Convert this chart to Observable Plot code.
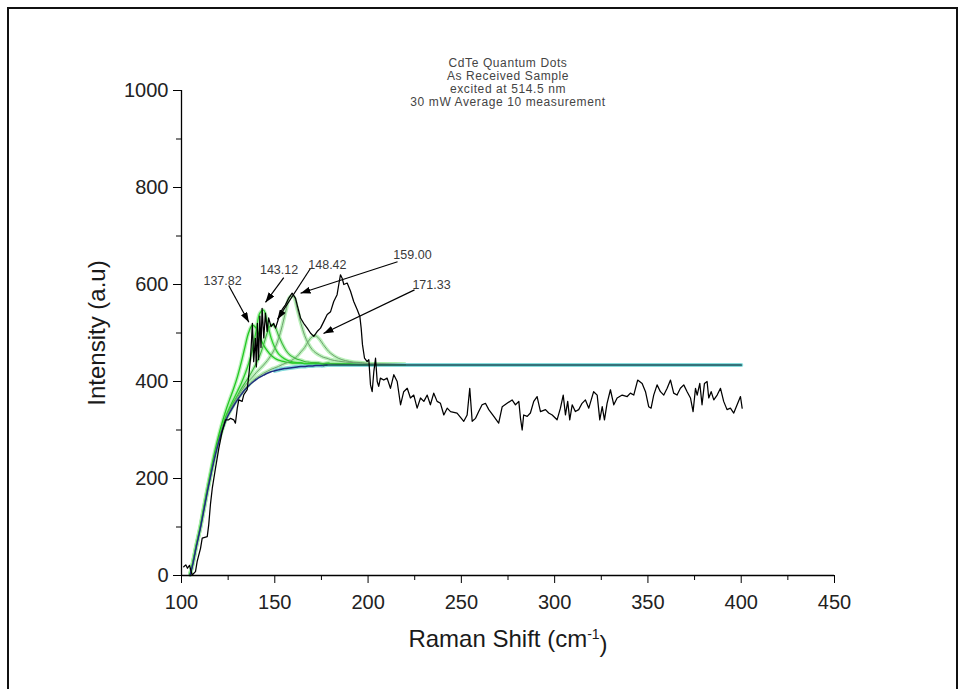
<!DOCTYPE html>
<html><head><meta charset="utf-8">
<script src="https://cdn.jsdelivr.net/npm/d3@7"></script>
<script src="https://cdn.jsdelivr.net/npm/@observablehq/plot@0.6"></script>
<style>
html,body{margin:0;padding:0;background:#fff;}
#wrap{position:relative;width:965px;height:689px;overflow:hidden;background:#fff;}
#border{position:absolute;left:7px;top:7px;width:951px;height:720px;border:2px solid #111;box-sizing:border-box;}
#chart{position:absolute;left:0;top:0;}
</style></head><body>
<div id="wrap"><div id="border"></div><div id="chart"></div></div>
<script>
// ---- data ----
const specX = [101.2,102.3,103.2,104.3,105.7,107.5,108.4,110.2,111.1,113.8,114.6,115.5,116.5,118.2,120.0,121.8,123.6,125.3,126.3,128.0,128.9,129.9,130.7,132.5,133.4,135.2,136.1,137.0,137.5,138.0,138.7,139.6,140.1,140.7,141.3,142.0,142.6,143.2,144.1,145.0,145.9,146.7,148.0,149.4,150.4,152.1,153.9,155.7,157.5,159.3,161.1,162.0,163.8,165.5,167.4,169.1,170.9,172.7,174.5,176.3,178.1,179.9,181.6,183.4,184.3,185.2,186.1,187.0,188.8,190.6,192.3,194.2,195.6,196.3,197.0,198.1,199.5,200.4,201.3,202.2,203.1,204.0,204.9,205.7,206.6,208.4,210.2,212.0,213.8,215.6,217.4,219.1,221.0,222.7,224.5,226.3,228.1,229.9,231.7,233.4,235.2,237.0,238.8,240.6,242.4,244.2,247.7,251.3,253.1,254.5,255.8,257.6,259.3,261.1,262.9,264.7,267.4,270.0,271.9,274.5,277.2,279.0,280.8,281.7,282.6,283.4,285.3,287.0,288.8,290.6,292.4,295.1,296.8,298.7,301.3,303.1,304.6,305.8,307.0,308.1,309.4,311.1,312.9,314.7,316.5,318.3,320.9,322.8,324.2,325.5,326.7,328.1,329.9,331.7,333.5,336.2,338.9,340.6,342.4,344.5,346.9,348.7,350.4,351.7,353.1,354.9,356.7,358.5,360.3,362.1,363.8,365.6,367.4,369.2,371.0,372.8,374.2,375.5,376.4,377.8,379.0,380.3,381.7,382.6,383.9,385.3,387.1,388.9,390.6,392.4,394.2,396.0,397.8,399.6,400.5];
const specY = [18,22,15,21,1,8,29,56,77,80,105,146,180,221,262,297,321,321,324,321,314,345,362,359,373,383,414,448,483,520,441,489,430,520,445,535,470,551,490,541,503,531,513,520,510,531,548,558,572,582,572,558,531,520,510,500,493,503,510,524,538,544,565,579,600,620,613,600,603,586,565,548,534,510,476,448,441,445,393,379,421,448,400,390,407,403,407,386,414,400,352,379,386,366,372,345,366,359,372,352,376,359,355,331,345,338,335,318,331,386,318,324,338,352,355,342,328,314,348,355,362,352,359,324,300,331,328,335,359,369,338,342,335,331,321,345,372,331,359,321,352,338,342,355,362,345,379,372,321,348,321,355,383,352,366,372,369,376,372,403,396,379,348,345,372,393,379,372,386,403,376,372,386,393,379,366,338,386,372,396,352,396,400,366,379,362,372,386,359,342,345,335,352,369,345];

const fitX  = [104.6,106,108,110,112,114,116,118,120,122,124,126,128,130,132,134,136,138,140,142,144,146,148,150,152,154,156,158,160,162,164,166,168,170,172,174,176,178,180,184,188,192,196,200,210,220];
const baseY = [0,22,60,95,135,175,212,246,276,301,322,337,350,362,373,383,391,398,404,409,413,417,420,422,424,426,427,428,429,430,431,431,432,432,433,433,433,434,434,434,434,434,434,434,434,434];
const peak1Y = [4,27,65,101,142,183,222,258,290,318,343,365,386,410,439,471,501,516,510,492,475,463,454,448,444,442,440,439,438,438,438,437,437,437,437,437,436,437,437,436,436,436,435,435,435,435];
const peak2Y = [2,25,63,98,139,179,217,251,282,308,331,348,364,380,396,415,437,466,504,541,547,520,490,470,457,450,445,442,440,439,439,437,437,437,437,437,436,437,437,436,436,435,435,435,435,435];
const peak3Y = [2,24,62,97,138,178,215,250,280,306,328,344,358,371,385,397,409,422,437,454,476,501,517,513,495,478,464,455,450,446,444,441,440,439,439,438,437,438,437,437,436,436,436,435,435,435];
const peak4Y = [2,24,62,97,137,178,215,249,280,305,326,342,355,368,380,391,401,409,418,426,434,443,454,468,488,515,547,574,575,550,520,495,478,466,459,454,450,448,445,442,440,439,438,437,436,435];
const peak5Y = [1,23,61,96,136,176,213,247,277,302,323,338,352,364,375,385,393,401,407,412,417,421,425,428,431,435,438,441,446,452,461,470,483,492,494,487,476,466,458,448,443,440,439,437,436,435];
const plateauX = [300,400];
const plateauY = [434,434];

const peakNames = ["137.82","143.12","148.42","159.00","171.33"];
const labelX = [122.0,152.3,178.2,223.8,234.0];
const labelY = [608,629,641,660,598];
const arrowFromX = [125.3,154.8,169.1,215.8,224.9];
const arrowFromY = [598,614,633,647,589];
const arrowToX = [136.1,145.0,151.4,163.8,176.1];
const arrowToY = [522,563,528,582,499];

const titleLines = ["CdTe Quantum Dots","As Received Sample","excited at 514.5 nm","30 mW Average 10 measurement"];
const yTicks = [0,200,400,600,800,1000];
const yMinor = [100,300,500,700,900];
const xTicks = [100,150,200,250,300,350,400,450];
const xMinor = [125,175,225,275,325,375,425];

// ---- build tables ----
const spectrum = specX.map((x,i)=>({x, y: specY[i]}));
const peakSets = [peak1Y,peak2Y,peak3Y,peak4Y,peak5Y];
const peaks = peakSets.flatMap((arr,k)=>fitX.map((x,i)=>({x, y: arr[i], k})));
const baseline = fitX.map((x,i)=>({x, y: baseY[i]})).concat(plateauX.map((x,i)=>({x, y: plateauY[i]})));
const annot = peakNames.map((t,i)=>({t, x: labelX[i], y: labelY[i], x1: arrowFromX[i], y1: arrowFromY[i], x2: arrowToX[i], y2: arrowToY[i]}));

const peakColor = ["#22c822","#2ccf2c","#3cb93c","#6f9f6f","#6f9f6f"];
const peakWidth = [1.3,1.3,1.1,1.0,1.0];

const font = "'Liberation Sans', Arial, sans-serif";

const plot = Plot.plot({
  width: 965, height: 689,
  marginLeft: 181, marginRight: 131, marginTop: 90, marginBottom: 114,
  x: {domain: [100,450], label: null},
  y: {domain: [0,1000], label: null},
  style: {fontFamily: font, background: "transparent", color: "#111"},
  marks: [
    Plot.line(peaks, {x: "x", y: "y", z: "k", curve: "catmull-rom", stroke: "#a6eea6", strokeWidth: 3.8, strokeOpacity: 0.75}),
    Plot.line(baseline.filter(d => d.x >= 150), {x: "x", y: "y", curve: "catmull-rom", stroke: "#86dcdc", strokeWidth: 4.2}),
    ...peakSets.map((arr,k)=>Plot.line(peaks.filter(d=>d.k===k), {x: "x", y: "y", curve: "catmull-rom", stroke: peakColor[k], strokeWidth: peakWidth[k]})),
    Plot.line(baseline.filter(d => d.x <= 178), {x: "x", y: "y", curve: "catmull-rom", stroke: "#1e2a82", strokeWidth: 1.5}),
    Plot.line(baseline.filter(d => d.x >= 176), {x: "x", y: "y", stroke: "#1b4f5a", strokeWidth: 1.7}),
    Plot.line(spectrum, {x: "x", y: "y", stroke: "#000", strokeWidth: 1.25}),
    Plot.ruleX([100], {y1: 0, y2: 1000, stroke: "#000", strokeWidth: 1.3}),
    Plot.ruleY([0], {x1: 100, x2: 450, stroke: "#000", strokeWidth: 1.3}),
    Plot.axisY({ticks: yTicks, tickSize: 8, tickPadding: 5, fontSize: 20, tickFormat: d => String(d), label: null, stroke: "#000", fill: "#222"}),
    Plot.axisY({ticks: yMinor, tickSize: 5, tickFormat: () => "", label: null, stroke: "#000"}),
    Plot.axisX({ticks: xTicks, tickSize: 8, tickPadding: 11, fontSize: 20, tickFormat: d => String(d), label: null, stroke: "#000", fill: "#222"}),
    Plot.axisX({ticks: xMinor, tickSize: 5, tickFormat: () => "", label: null, stroke: "#000"}),
    Plot.link(annot, {x1: "x1", y1: "y1", x2: "x2", y2: "y2", stroke: "#000", strokeWidth: 1.2}),
    Plot.text(annot, {x: "x", y: "y", text: "t", fontSize: 12.5, fill: "#3a3a3a"}),
    Plot.text([titleLines.join("\n")], {frameAnchor: "top", dy: -8, lineAnchor: "middle", lineHeight: 1.08, fontSize: 12, fill: "#444"}),
    Plot.text(["Intensity (a.u)"], {frameAnchor: "left", dx: -84, rotate: -90, textAnchor: "middle", fontSize: 24, fill: "#1a1a1a"}),
    Plot.text(["Raman Shift (cm-1)"], {frameAnchor: "bottom", dy: 71, textAnchor: "middle", fontSize: 24, fill: "#1a1a1a"})
  ]
});
document.getElementById("chart").appendChild(plot);

const svg = d3.select(plot);
// filled arrow heads for annotation links
const defs = svg.insert("defs", ":first-child");
defs.append("marker").attr("id", "ahead").attr("viewBox", "0 0 10 7")
  .attr("refX", 10).attr("refY", 3.5).attr("markerWidth", 10).attr("markerHeight", 7)
  .attr("markerUnits", "userSpaceOnUse").attr("orient", "auto")
  .append("path").attr("d", "M0,0L10,3.5L0,7Z").attr("fill", "#000");
svg.selectAll('g[aria-label="link"] path').attr("marker-end", "url(#ahead)");

// title letter spacing
svg.selectAll("text").filter(function(){ return this.textContent.includes("CdTe"); }).style("letter-spacing", "0.6px");
// superscript on x label
const xl = svg.selectAll("text").filter(function(){ return this.textContent === "Raman Shift (cm-1)"; });
xl.text("Raman Shift (cm");
xl.append("tspan").attr("dy", "-0.55em").attr("font-size", "14").text("-1");
xl.append("tspan").attr("dy", "0.55em").text(")");
</script>
</body></html>
